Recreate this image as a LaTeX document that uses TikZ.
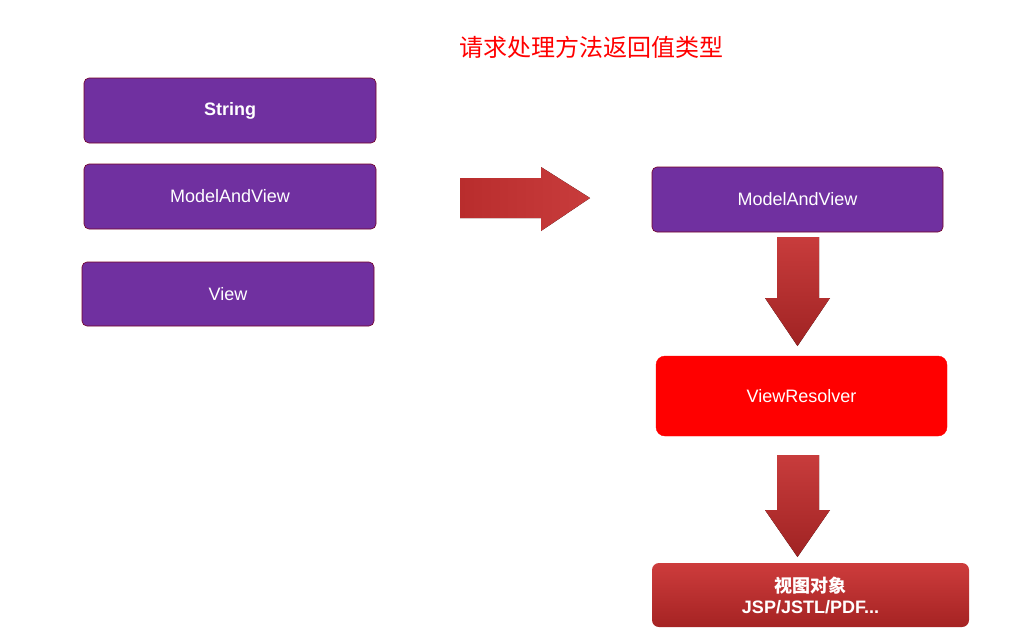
\documentclass[tikz,border=0pt]{standalone}
\usepackage{fontspec}
\setmainfont{Liberation Sans}
\newfontfamily\cjk{Noto Sans CJK SC}
\begin{document}
\begin{tikzpicture}[x=1pt,y=-1pt,
  pbox/.style={draw=purple!60!black,line width=0.6pt,fill={rgb,255:red,112;green,48;blue,160},rounded corners=5pt,text=white,font=\fontsize{18}{20}\selectfont},
  rarrow/.style={draw=none,top color={rgb,255:red,200;green,60;blue,60},bottom color={rgb,255:red,160;green,35;blue,35}}]
\useasboundingbox (0,0) rectangle (1026,643);
\node[text=red,font=\cjk\fontsize{24}{26}\selectfont] (title) at (591,47) {请求处理方法返回值类型};
\node[pbox,minimum width=292pt,minimum height=65pt,font=\bfseries\fontsize{18}{20}\selectfont] (s) at (230,110.5) {String};
\node[pbox,minimum width=292pt,minimum height=65pt] (mv) at (230,196.5) {ModelAndView};
\node[pbox,minimum width=292pt,minimum height=64pt] (v) at (228,294) {View};
\node[pbox,minimum width=291pt,minimum height=65pt] (mv2) at (797.5,199.5) {ModelAndView};
\node[draw=red,fill=red,rounded corners=9pt,minimum width=291pt,minimum height=80pt,text=white,font=\fontsize{18}{20}\selectfont] (vr) at (801.5,396) {ViewResolver};
\node[rounded corners=7pt,top color={rgb,255:red,205;green,60;blue,60},bottom color={rgb,255:red,165;green,35;blue,35},minimum width=317pt,minimum height=64pt,text=white,align=center,font=\bfseries\fontsize{18}{21}\selectfont] (jsp) at (810.5,595) {{\cjk 视图对象}\\JSP/JSTL/PDF...};
\fill[rarrow,left color={rgb,255:red,185;green,45;blue,45},right color={rgb,255:red,200;green,60;blue,60}] (460,178) -- (541,178) -- (541,167) -- (590,198) -- (541,231) -- (541,218) -- (460,218) -- cycle;
\fill[rarrow] (777,237) -- (819,237) -- (819,298) -- (830,298) -- (797.5,346) -- (765,298) -- (777,298) -- cycle;
\fill[rarrow] (777,455) -- (819,455) -- (819,510) -- (830,510) -- (797.5,557) -- (765,510) -- (777,510) -- cycle;
\end{tikzpicture}
\end{document}
